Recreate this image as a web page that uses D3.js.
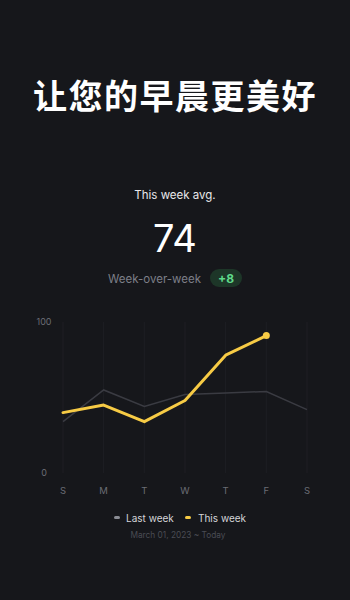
<!DOCTYPE html>
<meta charset="utf-8">
<style>
  body { margin: 0; background: #16171b; }
  svg { display: block; }
  text { font-family: Inter, "Noto Sans", sans-serif; }
</style>
<body>
<script src="https://d3js.org/d3.v7.min.js"></script>
<script>

// chart data
var days = ["S", "M", "T", "W", "T", "F", "S"];
var lastWeek = [34, 55, 44, 52, 53, 54, 42];
var thisWeek = [40, 45, 34, 48, 78, 91];
var yTicks = [0, 100];
var title = "让您的早晨更美好";
var avgLabel = "This week avg.";
var avgValue = "74";
var changeLabel = "Week-over-week";
var changeValue = "+8";
var legendNames = ["Last week", "This week"];
var dateRange = "March 01, 2023 ~ Today";

var W = 350, H = 600;
var colors = { last: "#3a3b42", now: "#f7cb45" };

var svg = d3.select("body").append("svg")
    .attr("width", W)
    .attr("height", H);

svg.append("rect").attr("width", W).attr("height", H).attr("fill", "#16171b");

// header
svg.append("text")
    .attr("x", W / 2).attr("y", 109)
    .attr("text-anchor", "middle")
    .attr("fill", "#fff")
    .style("font-family", "'Noto Sans CJK SC', sans-serif")
    .style("font-weight", 700)
    .style("font-size", "34px")
    .style("letter-spacing", "1.5px")
    .text(title);

svg.append("text")
    .attr("x", W / 2).attr("y", 199)
    .attr("text-anchor", "middle")
    .attr("fill", "#e8e8ea")
    .style("font-size", "11.5px")
    .text(avgLabel);

svg.append("text")
    .attr("x", W / 2).attr("y", 252)
    .attr("text-anchor", "middle")
    .attr("fill", "#fff")
    .style("font-size", "38px")
    .style("font-weight", 400)
    .text(avgValue);

svg.append("text")
    .attr("x", 201).attr("y", 283)
    .attr("text-anchor", "end")
    .attr("fill", "#7d7f88")
    .style("font-size", "11.5px")
    .text(changeLabel);

svg.append("rect")
    .attr("x", 210).attr("y", 269)
    .attr("width", 32).attr("height", 18)
    .attr("rx", 9)
    .attr("fill", "#1d3628");

svg.append("text")
    .attr("x", 226).attr("y", 282.5)
    .attr("text-anchor", "middle")
    .attr("fill", "#5fd98a")
    .style("font-size", "12px")
    .style("font-weight", 700)
    .text(changeValue);

// chart area
var x = d3.scalePoint().domain(d3.range(days.length)).range([63, 307]);
var y = d3.scaleLinear().domain([0, 100]).range([473, 322]);

svg.selectAll(".grid")
    .data(d3.range(days.length))
  .enter().append("line")
    .attr("x1", d => x(d)).attr("x2", d => x(d))
    .attr("y1", y(100)).attr("y2", y(0))
    .attr("stroke", "#1e1f24")
    .attr("stroke-width", 1);

svg.selectAll(".ytick")
    .data(yTicks)
  .enter().append("text")
    .attr("x", 44).attr("y", d => y(d) + 3)
    .attr("text-anchor", "middle")
    .attr("fill", "#6b6d75")
    .style("font-size", "9px")
    .text(d => d);

svg.selectAll(".xtick")
    .data(days)
  .enter().append("text")
    .attr("x", (d, i) => x(i)).attr("y", 494)
    .attr("text-anchor", "middle")
    .attr("fill", "#6b6d75")
    .style("font-size", "9.5px")
    .text(d => d);

var line = d3.line()
    .x((d, i) => x(i))
    .y(d => y(d));

svg.append("path")
    .datum(lastWeek)
    .attr("d", line)
    .attr("fill", "none")
    .attr("stroke", colors.last)
    .attr("stroke-width", 1.5);

svg.append("path")
    .datum(thisWeek)
    .attr("d", line)
    .attr("fill", "none")
    .attr("stroke", colors.now)
    .attr("stroke-width", 3)
    .attr("stroke-linejoin", "round")
    .attr("stroke-linecap", "round");

var lastIdx = thisWeek.length - 1;
svg.append("circle")
    .attr("cx", x(lastIdx)).attr("cy", y(thisWeek[lastIdx]))
    .attr("r", 3.5)
    .attr("fill", colors.now);

// legend
var legend = [
  { name: legendNames[0], color: "#8a8c94", mx: 114, tx: 126 },
  { name: legendNames[1], color: colors.now, mx: 185, tx: 198 }
];
var lg = svg.selectAll(".legend")
    .data(legend)
  .enter().append("g");

lg.append("rect")
    .attr("x", d => d.mx).attr("y", 516)
    .attr("width", 6).attr("height", 3)
    .attr("rx", 1.5)
    .attr("fill", d => d.color);

lg.append("text")
    .attr("x", d => d.tx).attr("y", 521.5)
    .attr("fill", "#d4d5d9")
    .style("font-size", "10px")
    .text(d => d.name);

svg.append("text")
    .attr("x", 178).attr("y", 538)
    .attr("text-anchor", "middle")
    .attr("fill", "#4a4c54")
    .style("font-size", "8.3px")
    .text(dateRange);

</script>
</body>
